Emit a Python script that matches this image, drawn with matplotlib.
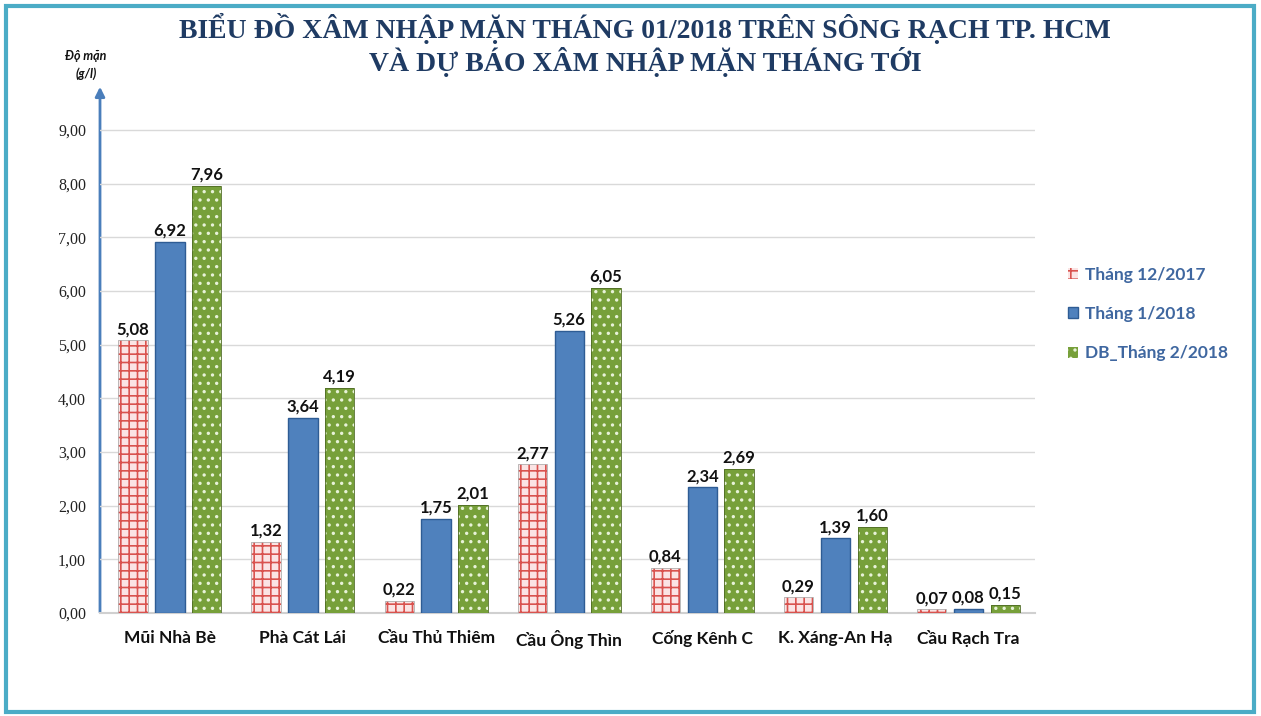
import matplotlib.pyplot as plt
import numpy as np
from matplotlib.patches import Rectangle, FancyArrowPatch

stations = ["Mũi Nhà Bè", "Phà Cát Lái", "Cầu Thủ Thiêm", "Cầu Ông Thìn",
            "Cống Kênh C", "K. Xáng-An Hạ", "Cầu Rạch Tra"]
thang_12_2017 = [5.08, 1.32, 0.22, 2.77, 0.84, 0.29, 0.07]
thang_1_2018 = [6.92, 3.64, 1.75, 5.26, 2.34, 1.39, 0.08]
db_thang_2_2018 = [7.96, 4.19, 2.01, 6.05, 2.69, 1.60, 0.15]
series_names = ["Tháng 12/2017", "Tháng 1/2018", "DB_Tháng 2/2018"]
yticks = np.arange(0, 10, 1)

plt.rcParams['font.family'] = ['Lato', 'DejaVu Sans']
plt.rcParams['hatch.linewidth'] = 1.2

fig = plt.figure(figsize=(12.61, 7.16), dpi=100)
W, H = 1261, 716

# teal frame around the figure
fig.patches.append(Rectangle((6 / W, 4 / H), 1248 / W, 706 / H, transform=fig.transFigure,
                             fill=False, edgecolor='#4BACC6', linewidth=3))

ax = fig.add_axes([100 / W, (H - 613) / H, 935 / W, (613 - 88) / H])
x = np.arange(len(stations))
w = 0.22
pitch = 0.277

b1 = ax.bar(x - pitch, thang_12_2017, w, facecolor='#FBE4E4', edgecolor='#D9534F',
            hatch='++', linewidth=0, label=series_names[0], zorder=3)
b2 = ax.bar(x, thang_1_2018, w, facecolor='#4F81BD', edgecolor='#2E5C94',
            linewidth=1, label=series_names[1], zorder=3)
b3 = ax.bar(x + pitch, db_thang_2_2018, w, facecolor='#77A03A', edgecolor='#E8F2D8',
            hatch='..', linewidth=0, label=series_names[2], zorder=3)
for bars in (b1, b3):
    for b in bars:
        ax.add_patch(Rectangle(b.get_xy(), b.get_width(), b.get_height(), fill=False,
                               edgecolor='#B0B0B0' if bars is b1 else '#4F6B25',
                               linewidth=0.6, zorder=4))

for bars, vals in ((b1, thang_12_2017), (b2, thang_1_2018), (b3, db_thang_2_2018)):
    for b, v in zip(bars, vals):
        ax.text(b.get_x() + b.get_width() / 2, v + 0.06, f"{v:.2f}".replace('.', ','),
                ha='center', va='bottom', fontsize=12, fontweight='bold', color='#111111',
                zorder=5)

ax.set_xlim(-0.525, 6.5)
ax.set_ylim(0, 9.78)
ax.set_yticks(yticks)
ax.set_yticklabels([f"{t:.2f}".replace('.', ',') for t in yticks],
                   fontfamily='Liberation Serif', fontsize=11.5, color='#222222')
ax.set_xticks(x)
ax.set_xticklabels(stations, fontsize=12.5, fontweight='bold', color='#111111')
ax.tick_params(axis='both', length=0)
ax.tick_params(axis='y', pad=10)
ax.tick_params(axis='x', pad=12)
ax.grid(axis='y', color='#D9D9D9', linewidth=1, zorder=0)
for s in ('top', 'right', 'left'):
    ax.spines[s].set_visible(False)
ax.spines['bottom'].set_color('#D0D0D0')
ax.spines['bottom'].set_linewidth(1.5)

# y axis arrow
ax.add_patch(FancyArrowPatch((100 / W, (H - 615) / H), (100 / W, (H - 84) / H),
                             transform=fig.transFigure, arrowstyle='-|>', mutation_scale=14,
                             color='#4A7EBB', linewidth=2, clip_on=False))

fig.text(86 / W, 1 - 65 / H, "Độ mặn\n(g/l)", ha='center', va='center', fontsize=9,
         fontstyle='italic', fontweight='bold', color='#111111', linespacing=1.6)

fig.text(645 / W, 1 - 45 / H, "BIỂU ĐỒ XÂM NHẬP MẶN THÁNG 01/2018 TRÊN SÔNG RẠCH TP. HCM\n"
         "VÀ DỰ BÁO XÂM NHẬP MẶN THÁNG TỚI", ha='center', va='center',
         fontfamily='Liberation Serif', fontsize=20, fontweight='bold', color='#1F3B63',
         linespacing=1.1)

leg = fig.legend(handles=[b1, b2, b3], labels=series_names, loc='center left',
                 bbox_to_anchor=(1052 / W, 1 - 314 / H), frameon=False,
                 fontsize=12.5, handlelength=0.6, handleheight=0.6, handletextpad=0.4,
                 labelspacing=1.35)
for t in leg.get_texts():
    t.set_color('#3F67A0')
    t.set_fontweight('bold')

fig.savefig('out.png', dpi=100)
